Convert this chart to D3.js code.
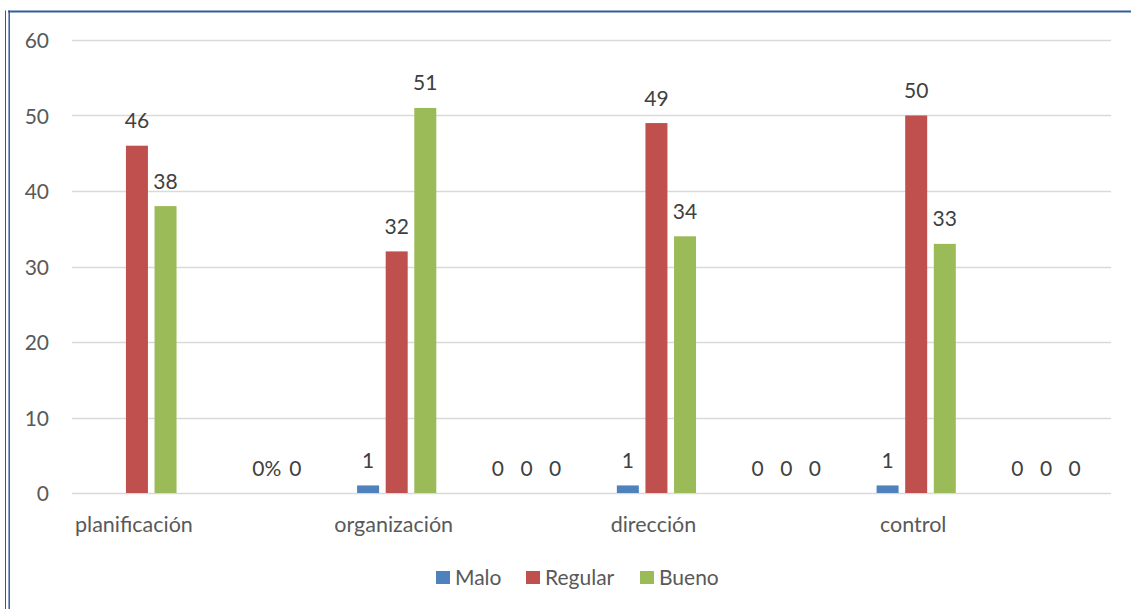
<!DOCTYPE html>
<html>
<head>
<meta charset="utf-8">
<script src="https://cdn.jsdelivr.net/npm/d3@7"></script>
<style>
  html, body { margin: 0; padding: 0; background: #fff; }
  svg { display: block; }
  text { font-family: Lato, "Open Sans", sans-serif; }
</style>
</head>
<body>
<svg id="chart" width="1131" height="609"></svg>
<script>
// Category slots (unnamed slots carry the empty groups)
const categories = ["planificación", "", "organización", "", "dirección", "", "control", ""];
const seriesNames = ["Malo", "Regular", "Bueno"];
const seriesColors = ["#4F81BD", "#C0504D", "#9BBB59"];

// Values per series; null = no bar and no label
const malo    = [null, null, 1, 0, 1, 0, 1, 0];
const regular = [46, 0, 32, 0, 49, 0, 50, 0];
const bueno   = [38, 0, 51, 0, 34, 0, 33, 0];

// Label formats per series ("%" appends a percent sign)
const maloFmt    = ["", "", "", "", "", "", "", ""];
const regularFmt = ["", "%", "", "", "", "", "", ""];
const buenoFmt   = ["", "", "", "", "", "", "", ""];

const yTicks = [0, 10, 20, 30, 40, 50, 60];

const seriesValues = [malo, regular, bueno];
const seriesFmts = [maloFmt, regularFmt, buenoFmt];

const svg = d3.select("#chart");
const W = 1131, H = 609;
const plot = { left: 72, right: 1111, top: 40, bottom: 493 };
const fontSize = "21px";

// Frame
const frameColor = "#345c9c";
svg.append("line").attr("x1", 8).attr("x2", W).attr("y1", 11.5).attr("y2", 11.5)
  .attr("stroke", frameColor).attr("stroke-width", 2);
svg.append("line").attr("x1", 5.5).attr("x2", 5.5).attr("y1", 10.5).attr("y2", H)
  .attr("stroke", frameColor).attr("stroke-width", 1);
svg.append("line").attr("x1", 9.2).attr("x2", 9.2).attr("y1", 10.5).attr("y2", H)
  .attr("stroke", frameColor).attr("stroke-width", 1.5);

const x = d3.scaleBand().domain(d3.range(categories.length))
  .range([plot.left, plot.right]).paddingInner(0).paddingOuter(0);
const y = d3.scaleLinear().domain([0, 60]).range([plot.bottom, plot.top]);

const barW = 22, barStep = 28.6;
const xSeries = d3.scaleLinear().domain([0, 2])
  .range([-barStep, barStep]);

// Gridlines
svg.append("g").selectAll("line").data(yTicks).join("line")
  .attr("x1", plot.left).attr("x2", plot.right)
  .attr("y1", d => Math.round(y(d)) + 0.5).attr("y2", d => Math.round(y(d)) + 0.5)
  .attr("stroke", "#d9d9d9").attr("stroke-width", 1.3);

// Y axis labels
const yAxis = d3.axisLeft(y).tickValues(yTicks).tickSize(0).tickPadding(0);
const gy = svg.append("g").attr("transform", `translate(49,0)`).call(yAxis);
gy.select(".domain").remove();
gy.selectAll("text").attr("fill", "#595959").style("font-size", fontSize)
  .style("font-family", "Lato, sans-serif").attr("dy", "0.36em");

// Category labels
const xAxis = d3.axisBottom(x).tickFormat(i => categories[i]).tickSize(0).tickPadding(0);
const gx = svg.append("g").attr("transform", `translate(-3,${plot.bottom + 39})`).call(xAxis);
gx.select(".domain").remove();
gx.selectAll("text").attr("fill", "#595959").style("font-size", "21.5px")
  .style("font-family", "Lato, sans-serif").attr("dy", 0);

// Bars and data labels
const points = [];
seriesValues.forEach((vals, s) => {
  vals.forEach((v, i) => {
    if (v === null) return;
    points.push({ s, i, v, fmt: seriesFmts[s][i] });
  });
});
const cx = d => x(d.i) + x.bandwidth() / 2 + xSeries(d.s);

svg.append("g").selectAll("rect").data(points.filter(d => d.v > 0)).join("rect")
  .attr("x", d => cx(d) - barW / 2)
  .attr("width", barW)
  .attr("y", d => y(d.v))
  .attr("height", d => y(0) - y(d.v))
  .attr("fill", d => seriesColors[d.s]);

svg.append("g").selectAll("text").data(points).join("text")
  .attr("x", d => cx(d))
  .attr("y", d => y(d.v) - 17.5)
  .attr("text-anchor", "middle")
  .attr("fill", "#404040")
  .style("font-size", fontSize)
  .text(d => d.v + (d.fmt === "%" ? "%" : ""));

// Legend
const legendItems = [
  { name: seriesNames[0], color: seriesColors[0], x: 436 },
  { name: seriesNames[1], color: seriesColors[1], x: 526 },
  { name: seriesNames[2], color: seriesColors[2], x: 640 }
];
const lg = svg.append("g");
legendItems.forEach(it => {
  lg.append("rect").attr("x", it.x).attr("y", 571).attr("width", 14).attr("height", 13)
    .attr("fill", it.color);
  lg.append("text").attr("x", it.x + 19).attr("y", 585)
    .attr("fill", "#595959").style("font-size", fontSize).text(it.name);
});
</script>
</body>
</html>
